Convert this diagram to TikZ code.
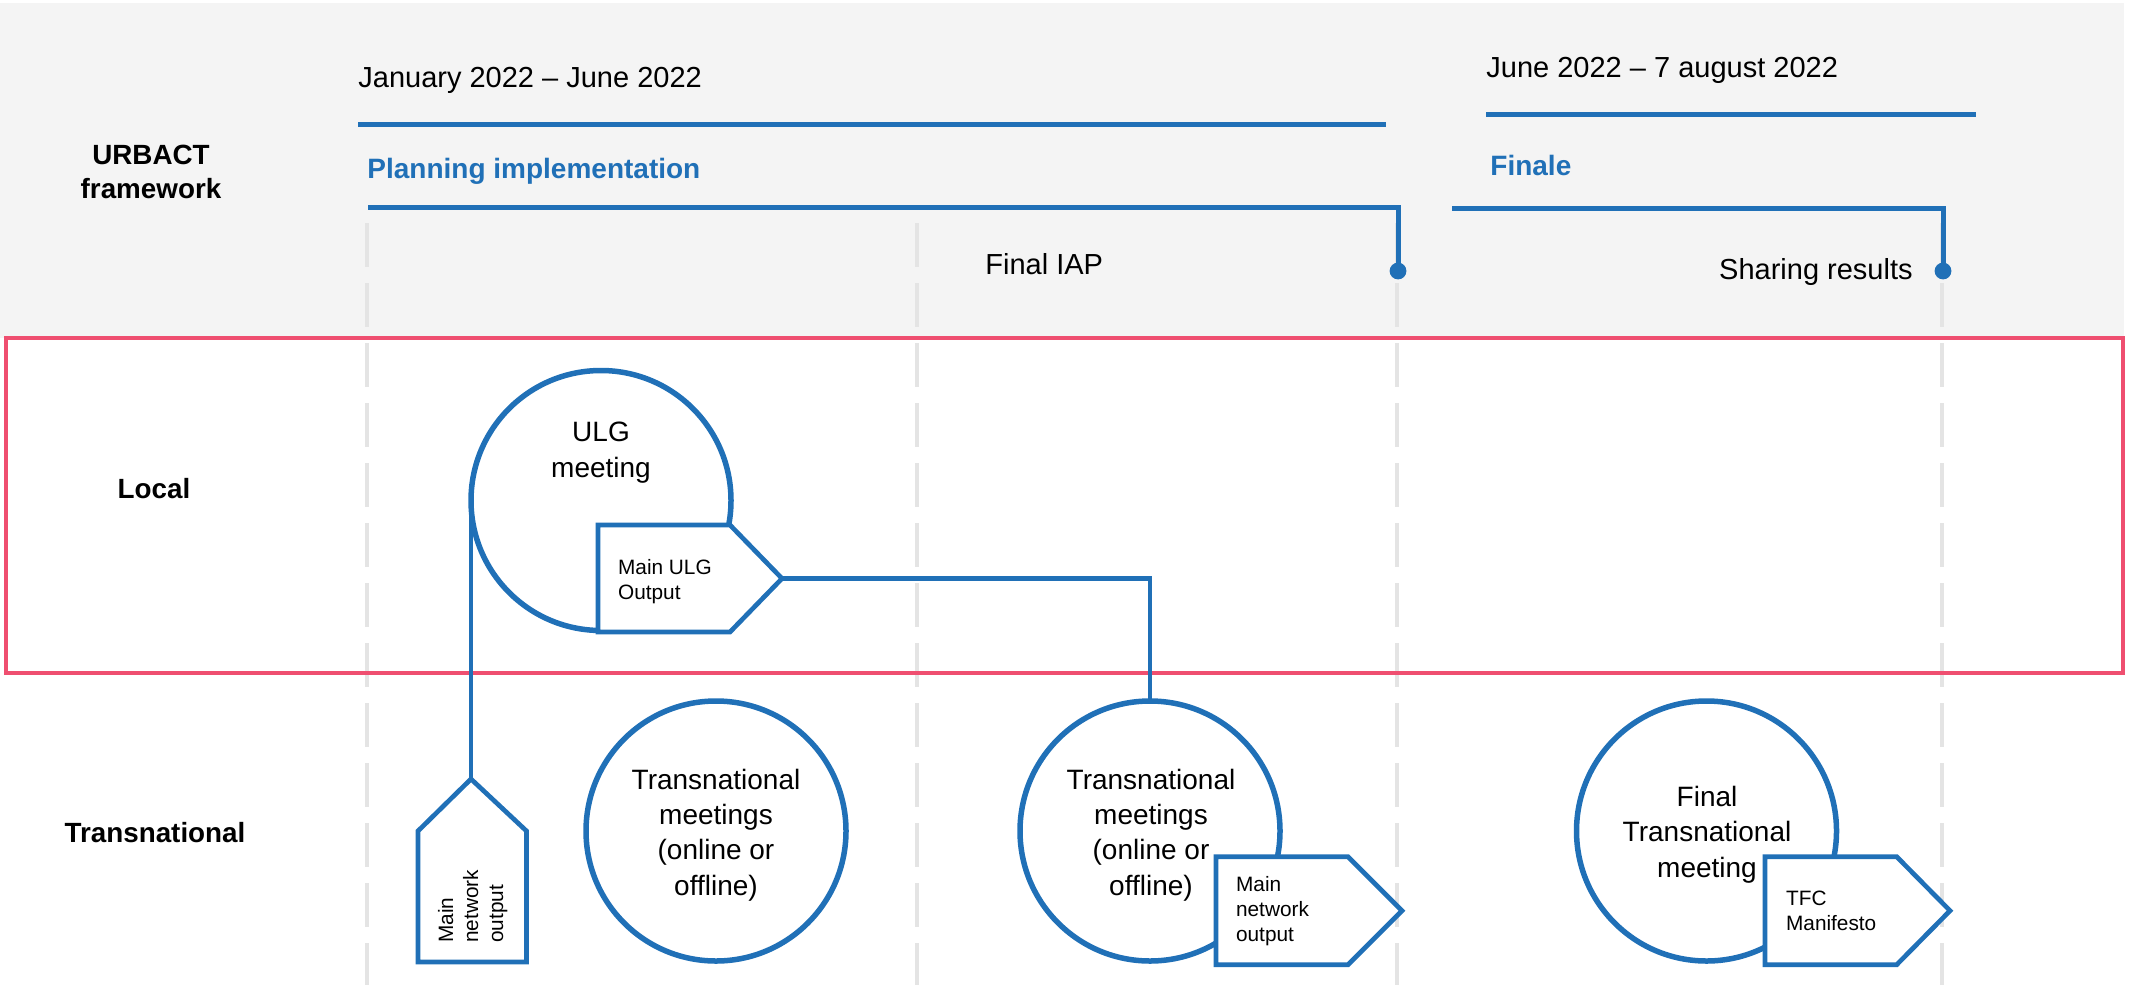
\documentclass[tikz,border=0pt]{standalone}
\usepackage{fontspec}
\setmainfont{Liberation Sans}
\definecolor{ublue}{RGB}{32,112,183}
\definecolor{upink}{RGB}{239,79,112}
\definecolor{bggray}{RGB}{244,244,244}
\definecolor{guidegray}{RGB}{228,228,228}
\tikzset{
  txt/.style={inner sep=0pt, font=\fontsize{14.5pt}{17.5pt}\selectfont},
  rowlbl/.style={inner sep=0pt, align=center, font=\bfseries\fontsize{13.9pt}{17pt}\selectfont},
  bluebold/.style={inner sep=0pt, text=ublue, font=\bfseries\fontsize{14pt}{17pt}\selectfont},
  ctext/.style={inner sep=0pt, align=center, font=\fontsize{14pt}{17.6pt}\selectfont},
  smalltext/.style={inner sep=0pt, align=left, font=\fontsize{10.4pt}{12.5pt}\selectfont},
  phasebar/.style={draw=ublue, line width=2.5pt, line join=miter},
  guide/.style={draw=guidegray, line width=2.4pt, dash pattern=on 22pt off 8pt},
  meet/.style={circle, draw=ublue, line width=2.75pt, fill=white, minimum size=130pt, inner sep=0pt, outer sep=0pt},
  tagshape/.style={draw=ublue, fill=white, line width=2.35pt, line join=miter},
  conn/.style={draw=ublue, line width=2.2pt},
}
\begin{document}
\begin{tikzpicture}[x=0.5pt,y=-0.5pt]
\useasboundingbox (0,0) rectangle (2134,985);
% background band
\fill[bggray] (0,3) rectangle (2124,338);
% guides
\foreach \gx in {367,917,1397,1942} {\draw[guide] (\gx,223) -- (\gx,985);}
% local frame
\draw[upink, line width=2.4pt] (6,338) rectangle (2123,673);
% row labels (base = last line baseline)
\node[rowlbl, anchor=base] (urbact) at (151,198) {URBACT\\framework};
\node[rowlbl, anchor=base] (local) at (154,498) {Local};
\node[rowlbl, anchor=base] (trans) at (155,842) {Transnational};
% phase headers
\node[txt, anchor=base west] (p1date) at (358,87) {January 2022 – June 2022};
\node[txt, anchor=base west] (p2date) at (1486,77) {June 2022 – 7 august 2022};
\node[bluebold, anchor=base west] (p1name) at (367,178) {Planning implementation};
\node[bluebold, anchor=base west] (p2name) at (1490,175) {Finale};
\node[txt, anchor=base west] (iap) at (985,274) {Final IAP};
\node[txt, anchor=base east] (share) at (1913,279) {Sharing results};
\draw[phasebar] (358,124.5) -- (1386,124.5);
\draw[phasebar] (1486,114.5) -- (1976,114.5);
\coordinate (d1) at (1398,271);
\coordinate (d2) at (1943,271);
\draw[phasebar] (368,207) -- (1398,207) -- (d1);
\draw[phasebar] (1452,208) -- (1943,208) -- (d2);
\fill[ublue] (d1) circle (4.2pt);
\fill[ublue] (d2) circle (4.2pt);
% meetings
\node[meet] (ulg) at (601,500.5) {};
\node[meet] (tm1) at (716,831) {};
\node[meet] (tm2) at (1150,831) {};
\node[meet] (ftm) at (1706.5,831) {};
\node[ctext, anchor=base] (ulgt) at (601,477) {ULG\\meeting};
\node[ctext, anchor=base] (tm1t) at (716,895) {Transnational\\meetings\\(online or\\offline)};
\node[ctext, anchor=base] (tm2t) at (1151,895) {Transnational\\meetings\\(online or\\offline)};
\node[ctext, anchor=base] (ftmt) at (1707,877) {Final\\Transnational\\meeting};
% output tags
\coordinate (uotip) at (782,578.5);
\coordinate (mnoapex) at (471,779);
% connectors
\draw[conn] (uotip) -- (uotip -| tm2.north) -- (tm2.north);
\draw[conn] (ulg.west) -- (ulg.west |- mnoapex);
\draw[tagshape] (598,525) -- (730,525) -- (uotip) -- (730,632) -- (598,632) -- cycle;
\draw[tagshape] (mnoapex) -- (526.5,831) -- (526.5,962) -- (418,962) -- (418,831) -- cycle;
\draw[tagshape] (1216,856.7) -- (1348,856.7) -- (1402,910.7) -- (1348,964.7) -- (1216,964.7) -- cycle;
\draw[tagshape] (1765,856.7) -- (1896.7,856.7) -- (1950,910.7) -- (1896.7,964.7) -- (1765,964.7) -- cycle;
\node[smalltext, anchor=base west] (uot) at (617.7,599) {Main ULG\\Output};
\node[smalltext, anchor=base west, rotate=90] (mnot) at (503,943) {Main\\network\\output};
\node[smalltext, anchor=base west] (mno2t) at (1235.7,941.7) {Main\\network\\output};
\node[smalltext, anchor=base west] (tfct) at (1785.7,930.7) {TFC\\Manifesto};
\end{tikzpicture}
\end{document}
